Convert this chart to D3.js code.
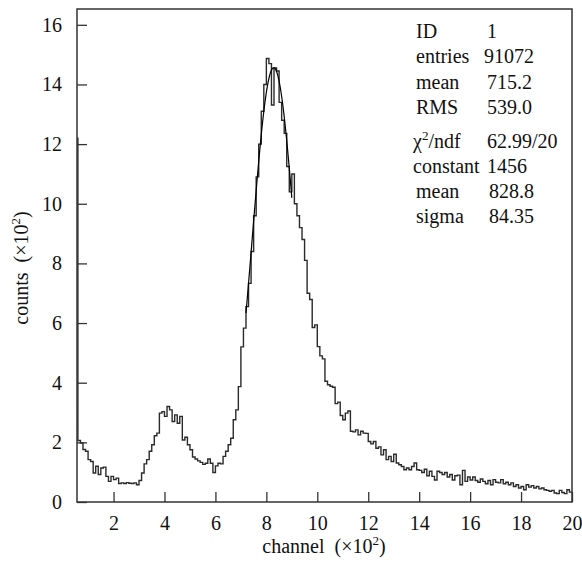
<!DOCTYPE html>
<html>
<head>
<meta charset="utf-8">
<script src="https://cdn.jsdelivr.net/npm/d3@7"></script>
<style>
  body { margin: 0; background: #fff; }
  svg text { font-family: "Liberation Serif", "Times New Roman", serif; fill: #111; }
</style>
</head>
<body>
<div id="chart"></div>
<script>
// Histogram: 10 channels per bin, contents in units of 10^2 counts
const binStart = 0.5   // first bin lower edge (x10^2 channel)
const binWidth = 0.1
const counts = [
  12.2,
  2.06, 1.98, 1.76, 1.70, 1.42, 1.36, 0.97, 1.20, 0.92, 1.14,
  1.17, 0.86, 0.69, 0.86, 0.75, 0.80, 0.62, 0.64, 0.62, 0.65,
  0.63, 0.62, 0.64, 0.58, 0.72, 0.97, 1.28, 1.42, 1.70, 1.92,
  2.22, 2.31, 2.98, 3.03, 2.87, 3.20, 3.09, 2.70, 2.92, 2.64,
  2.87, 2.08, 2.17, 1.92, 1.75, 1.51, 1.44, 1.38, 1.33, 1.26,
  1.30, 1.44, 1.30, 0.99, 1.21, 1.30, 1.28, 1.53, 1.70, 1.92,
  2.14, 2.76, 3.09, 3.87, 5.20, 5.83, 6.55, 7.33, 8.40, 9.60,
  10.9, 12.0, 13.1, 14.0, 14.87, 14.70, 13.31, 14.55, 14.45, 13.4,
  12.8, 12.36, 11.25, 10.4, 11.0, 10.0, 9.6, 9.2, 8.8, 8.1,
  7.0, 6.79, 5.85, 5.94, 5.21, 4.90, 4.80, 4.05, 3.93, 3.88,
  3.85, 3.30, 3.35, 2.90, 2.76, 2.98, 3.05, 2.37, 2.35, 2.42,
  2.25, 2.37, 2.31, 2.30, 2.03, 1.95, 2.03, 1.80, 1.85, 1.58,
  1.75, 1.42, 1.53, 1.36, 1.60, 1.31, 1.25, 1.19, 1.08, 1.14,
  1.08, 1.19, 1.31, 1.08, 1.06, 0.99, 1.10, 0.88, 1.03, 0.86,
  0.74, 1.03, 0.99, 0.92, 0.99, 0.84, 0.92, 0.74, 0.88, 0.90,
  0.58, 1.06, 0.69, 0.84, 0.74, 0.84, 0.72, 0.66, 0.77, 0.69,
  0.61, 0.72, 0.58, 0.75, 0.66, 0.64, 0.75, 0.61, 0.66, 0.58,
  0.64, 0.52, 0.58, 0.47, 0.52, 0.41, 0.58, 0.50, 0.55, 0.47,
  0.52, 0.44, 0.47, 0.41, 0.39, 0.36, 0.39, 0.30, 0.28, 0.39,
  0.32, 0.28, 0.41, 0.33
]

const xTicks = [2, 4, 6, 8, 10, 12, 14, 16, 18, 20]
const yTicks = [0, 2, 4, 6, 8, 10, 12, 14, 16]

// statistics box
const statLabels = ["ID", "entries", "mean", "RMS"]
const statValues = ["1", "91072", "715.2", "539.0"]
const chi2Value = "62.99/20"
const fitLabels = ["constant", "mean", "sigma"]
const fitValues = ["1456", "828.8", "84.35"]

// gaussian fit parameters (same units as the axes) and fit range
const fitConst = 14.56
const fitMean = 8.288
const fitSigma = 0.8435
const fitRange = [7.2, 9.0]

const width = 582
const height = 564
const margin = {top: 9, right: 10, bottom: 62, left: 77}
const innerW = width - margin.left - margin.right
const innerH = height - margin.top - margin.bottom

const svg = d3.select("#chart")
  .append("svg")
  .attr("width", width)
  .attr("height", height)
  .attr("font-family", "'Liberation Serif', serif")

const g = svg.append("g")
  .attr("transform", `translate(${margin.left},${margin.top})`)

const x = d3.scaleLinear().domain([0.565, 20]).range([0, innerW])
const y = d3.scaleLinear().domain([0, 16.53]).range([innerH, 0])

svg.append("defs").append("clipPath")
  .attr("id", "plotClip")
  .append("rect")
  .attr("width", innerW)
  .attr("height", innerH)

// build step outline of the histogram
const bins = counts.map((c, i) => ({x0: binStart + i * binWidth, x1: binStart + (i + 1) * binWidth, v: c}))
const stepPts = [[bins[0].x0, 0]]
bins.forEach(b => {
  stepPts.push([b.x0, b.v])
  stepPts.push([b.x1, b.v])
})

const line = d3.line()
  .x(d => x(d[0]))
  .y(d => y(d[1]))

const plot = g.append("g").attr("clip-path", "url(#plotClip)")

plot.append("path")
  .datum(stepPts)
  .attr("fill", "none")
  .attr("stroke", "#2a2a2a")
  .attr("stroke-width", 1.4)
  .attr("d", line)

// fit curve
const fitPts = d3.range(fitRange[0], fitRange[1] + 0.001, 0.01)
  .map(v => [v, fitConst * Math.exp(-0.5 * Math.pow((v - fitMean) / fitSigma, 2))])

plot.append("path")
  .datum(fitPts)
  .attr("fill", "none")
  .attr("stroke", "#000")
  .attr("stroke-width", 1.2)
  .attr("d", line)

// axes, ticks pointing inwards
const xAxis = d3.axisBottom(x).tickValues(xTicks).tickFormat(d3.format("d"))
  .tickSizeInner(-10).tickSizeOuter(0).tickPadding(14)
const yAxis = d3.axisLeft(y).tickValues(yTicks).tickFormat(d3.format("d"))
  .tickSizeInner(-10).tickSizeOuter(0).tickPadding(15)

const gx = g.append("g")
  .attr("transform", `translate(0,${innerH})`)
  .call(xAxis)
const gy = g.append("g").call(yAxis)

;[gx, gy].forEach(a => {
  a.attr("font-family", null).attr("font-size", null)
  a.select(".domain").remove()
  a.selectAll(".tick line").attr("stroke", "#333").attr("stroke-width", 1.3)
  a.selectAll(".tick text").attr("font-size", 20).attr("fill", "#111")
})

// frame
g.append("rect")
  .attr("width", innerW)
  .attr("height", innerH)
  .attr("fill", "none")
  .attr("stroke", "#333")
  .attr("stroke-width", 1.5)

// axis titles
const xt = svg.append("text")
  .attr("x", 324)
  .attr("y", 553)
  .attr("text-anchor", "middle")
  .attr("font-size", 20)
  .attr("xml:space", "preserve")
xt.append("tspan").text("channel  (×10")
xt.append("tspan").attr("dy", -8).attr("font-size", 13).text("2")
xt.append("tspan").attr("dy", 8).text(")")

const yt = svg.append("text")
  .attr("transform", "translate(28,268) rotate(-90)")
  .attr("text-anchor", "middle")
  .attr("font-size", 20)
  .attr("xml:space", "preserve")
yt.append("tspan").text("counts  (×10")
yt.append("tspan").attr("dy", -8).attr("font-size", 13).text("2")
yt.append("tspan").attr("dy", 8).text(")")

// statistics text
const stats = svg.append("g").attr("font-size", 20)
const statY = [38, 63, 89, 114]
const statValX = [487, 484, 487, 487]
statLabels.forEach((t, i) => {
  stats.append("text").attr("x", 416).attr("y", statY[i]).text(t)
  stats.append("text").attr("x", statValX[i]).attr("y", statY[i]).text(statValues[i])
})

const chi = stats.append("text").attr("x", 413).attr("y", 148)
chi.append("tspan").text("χ")
chi.append("tspan").attr("dy", -8).attr("font-size", 13).text("2")
chi.append("tspan").attr("dy", 8).text("/ndf")
stats.append("text").attr("x", 487).attr("y", 148).text(chi2Value)

const fitY = [173, 198, 223]
const fitValX = [487, 489, 489]
fitLabels.forEach((t, i) => {
  stats.append("text").attr("x", t === "constant" ? 413 : 416).attr("y", fitY[i]).text(t)
  stats.append("text").attr("x", fitValX[i]).attr("y", fitY[i]).text(fitValues[i])
})
</script>
</body>
</html>
